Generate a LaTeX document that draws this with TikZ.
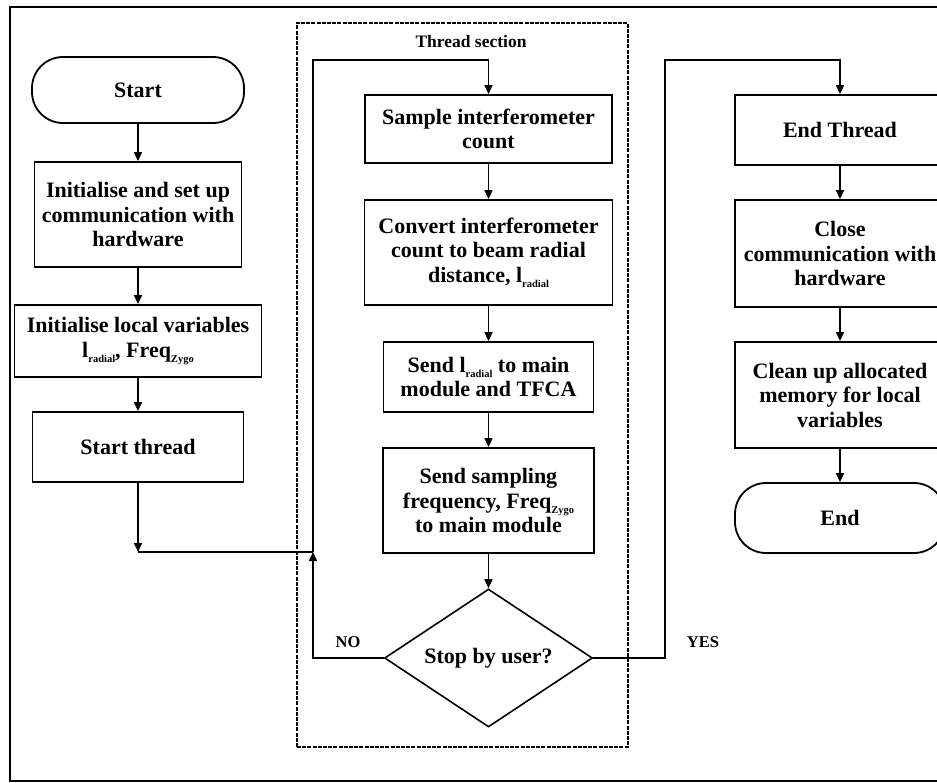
\documentclass[tikz,border=0pt]{standalone}
\usepackage{fontspec}
\setmainfont{Liberation Serif}
\usetikzlibrary{shapes.geometric,arrows.meta}

% small lowered subscript used inside the boxes
\newcommand{\subtxt}[1]{\raisebox{-0.5ex}{\fontsize{10.5}{10.5}\selectfont #1}}

\begin{document}
\begin{tikzpicture}[x=1pt,y=-1pt,
  every node/.style={font=\bfseries\fontsize{22}{24.5}\selectfont, align=center},
  proc/.style={draw, line width=1.8pt, inner sep=2pt},
  term/.style={draw, line width=1.8pt, rounded corners=31pt},
  decision/.style={draw, diamond, aspect=1.5, line width=1.6pt, inner sep=0pt,
                   minimum width=208pt, minimum height=138pt},
  flow/.style={line width=1.6pt, -{Triangle[length=9pt,width=8pt]}},
  link/.style={line width=1.6pt},
  lbl/.style={font=\bfseries\fontsize{16.5}{18}\selectfont},
  section/.style={draw, line width=1.2pt, dash pattern=on 4pt off 1.2pt, inner sep=0pt}
]
\useasboundingbox (0,0) rectangle (937,782);

% outer frame (its right side lies beyond the page edge)
\draw[line width=2pt] (960,7) -- (10,7) -- (10,781) -- (960,781);

% thread section frame
\node[section, minimum width=331pt, minimum height=724pt] (threadbox) at (462.5,385) {};
\node[font=\bfseries\fontsize{17.5}{19}\selectfont] (threadlbl) at (471,42) {Thread section};

% left column
\node[term, minimum width=212pt, minimum height=66pt] (start) at (138,90) {Start};
\node[proc, minimum width=207pt, minimum height=105pt] (init) at (138,214.5)
  {Initialise and set up\\communication with\\hardware};
\node[proc, minimum width=247pt, minimum height=72pt] (initlocal) at (138,341)
  {Initialise local variables\\l\subtxt{radial}, Freq\subtxt{Zygo}};
\node[proc, minimum width=211pt, minimum height=70pt] (startthread) at (138,447) {Start thread};

% thread column
\node[proc, minimum width=247pt, minimum height=68pt] (sample) at (488.5,129)
  {Sample interferometer\\count};
\node[proc, minimum width=248pt, minimum height=105pt] (convert) at (488.5,252.5)
  {Convert interferometer\\count to beam radial\\distance, l\subtxt{radial}};
\node[proc, minimum width=210pt, minimum height=70pt] (sendl) at (488.5,377)
  {Send l\subtxt{radial} to main\\module and TFCA};
\node[proc, minimum width=211pt, minimum height=105pt] (sendfreq) at (488.5,500.5)
  {Send sampling\\frequency, Freq\subtxt{Zygo}\\to main module};
\node[decision] (stop) at (488.5,658) {Stop by user?};

% right column (cut by the page edge)
\node[proc, minimum width=210pt, minimum height=70pt] (endthread) at (840,130) {End Thread};
\node[proc, minimum width=210pt, minimum height=107pt] (close) at (840,253.5)
  {Close\\communication with\\hardware};
\node[proc, minimum width=210pt, minimum height=106pt] (cleanup) at (840,395)
  {Clean up allocated\\memory for local\\variables};
\node[term, minimum width=210pt, minimum height=70pt] (endn) at (840,518) {End};

% labels of the decision
\node[lbl] (nolbl) at (348,642) {NO};
\node[lbl] (yeslbl) at (703,642) {YES};

% routing points
\coordinate (join) at (313,552);
\coordinate (stcorner) at (startthread.south |- join);
\coordinate (nocorner) at (join |- stop.west);
\coordinate (looptop) at (313,60);
\coordinate (yesbend) at (665,60);

% connectors, left column
\draw[flow] (start) -- (init);
\draw[flow] (init) -- (initlocal);
\draw[flow] (initlocal) -- (startthread);
\draw[flow] (startthread) -- (stcorner);
\draw[link] (stcorner) -- (join);

% connectors, thread loop
\draw[flow] (stop.west) -- (nocorner) -- (join);
\draw[flow] (join) -- (looptop) -| (sample.north);
\draw[flow] (sample) -- (convert);
\draw[flow] (convert) -- (sendl);
\draw[flow] (sendl) -- (sendfreq);
\draw[flow] (sendfreq) -- (stop);

% exit of the loop and the right column
\draw[flow] (stop.east) -| (yesbend) -| (endthread.north);
\draw[flow] (endthread) -- (close);
\draw[flow] (close) -- (cleanup);
\draw[flow] (cleanup) -- (endn);
\end{tikzpicture}
\end{document}
